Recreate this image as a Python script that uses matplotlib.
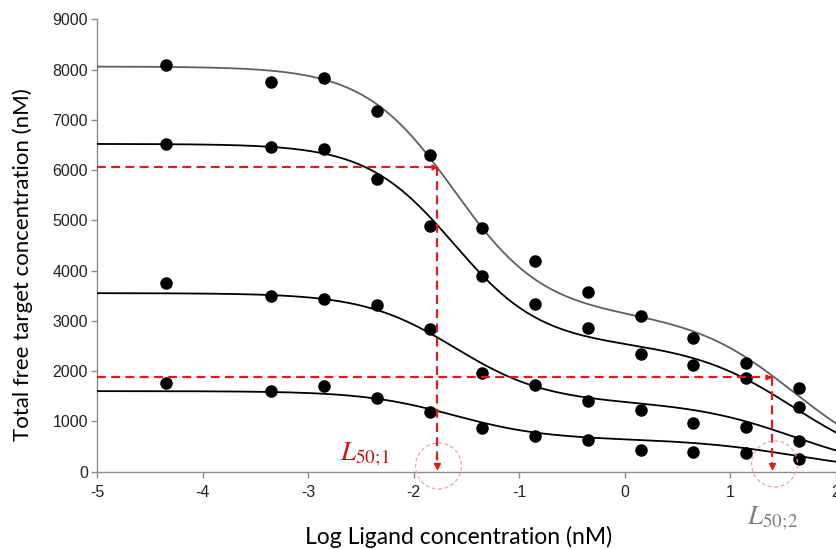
import numpy as np
import matplotlib
matplotlib.use("Agg")
import matplotlib.pyplot as plt
from matplotlib.patches import Ellipse

# ---- data ----
log_ligand = [-4.35, -3.35, -2.85, -2.35, -1.85, -1.35, -0.85, -0.35, 0.15, 0.65, 1.15, 1.65]
series_1 = [8090, 7750, 7840, 7175, 6300, 4850, 4190, 3565, 3100, 2650, 2150, 1655]
series_2 = [6515, 6455, 6425, 5820, 4890, 3900, 3340, 2860, 2340, 2120, 1855, 1290]
series_3 = [3760, 3495, 3425, 3315, 2835, 1955, 1715, 1395, 1220, 960, 880, 605]
series_4 = [1765, 1595, 1700, 1455, 1185, 860, 700, 625, 430, 390, 370, 250]
all_series = [series_1, series_2, series_3, series_4]

# fitted double-sigmoid curve parameters
fit_first_step = [4910, 3970, 2170, 960]     # height of first drop
fit_second_step = [3150, 2550, 1380, 640]    # height of second drop
fit_center_1 = [-1.62, -1.62, -1.61, -1.62]
fit_hill_1 = [1.02, 1.05, 1.0, 1.0]
fit_center_2 = [1.6, 1.6, 1.6, 1.6]
fit_hill_2 = [0.9, 0.9, 0.9, 0.9]
curve_colors = ["#5f5f5f", "#000000", "#000000", "#000000"]

L50_1_x, L50_1_y = -1.78, 6060
L50_2_x, L50_2_y = 1.39, 1880

x_ticks = [-5, -4, -3, -2, -1, 0, 1, 2]
y_ticks = [0, 1000, 2000, 3000, 4000, 5000, 6000, 7000, 8000, 9000]

# ---- figure ----
plt.rcParams['mathtext.fontset'] = 'stix'
fig = plt.figure(figsize=(8.37, 5.49), dpi=100)
ax = fig.add_axes([97 / 837, (549 - 471.5) / 549, (836 - 97) / 837, (471.5 - 19.3) / 549])

xc = np.linspace(-5, 2.2, 600)
for a1, a2, c1, h1, c2, h2, col in zip(fit_first_step, fit_second_step, fit_center_1,
                                        fit_hill_1, fit_center_2, fit_hill_2, curve_colors):
    yc = a1 / (1 + 10 ** (h1 * (xc - c1))) + a2 / (1 + 10 ** (h2 * (xc - c2)))
    ax.plot(xc, yc, color=col, lw=1.3, zorder=3)

for s in all_series:
    ax.plot(log_ligand, s, 'o', color='black', ms=8, zorder=4, clip_on=False)

red = "#dc1e1e"
dash_kw = dict(color=red, lw=1.6, dashes=(4, 2.4), zorder=5)
ax.plot([-5, L50_1_x], [L50_1_y, L50_1_y], **dash_kw)
ax.plot([L50_1_x, L50_1_x], [L50_1_y, 150], **dash_kw)
ax.plot([-5, L50_2_x], [L50_2_y, L50_2_y], **dash_kw)
ax.plot([L50_2_x, L50_2_x], [L50_2_y, 150], **dash_kw)
for xx in (L50_1_x, L50_2_x):
    ax.plot([xx], [110], marker='v', color=red, ms=4.5, zorder=6)
ax.plot([L50_1_x - 0.03], [L50_1_y], marker='>', color=red, ms=3.5, zorder=6)
ax.plot([L50_2_x - 0.03], [L50_2_y], marker='>', color=red, ms=3.5, zorder=6)

for cx, cy in ((-1.765, 110), (1.418, 150)):
    ax.add_patch(Ellipse((cx, cy), 0.435, 916, fill=False, ec="#f4a0a0", lw=0.9,
                         ls=(0, (3, 2)), clip_on=False, zorder=6))

ax.text(-2.70, 209, r'$L_{50;\!1}$', color="#c81818", fontsize=19.5, va='baseline', ha='left')
ax.text(1.153, -1065, r'$L_{50;\!2}$', color="#808080", fontsize=19.5, va='baseline', ha='left',
        clip_on=False)

ax.set_xlim(-5, 2)
ax.set_ylim(0, 9000)
ax.set_xticks(x_ticks)
ax.set_xticklabels([str(t) for t in x_ticks])
ax.set_yticks(y_ticks)
ax.set_yticklabels([str(t) for t in y_ticks])
for sp in ('top', 'right'):
    ax.spines[sp].set_visible(False)
for sp in ('left', 'bottom'):
    ax.spines[sp].set_color('#8c8c8c')
    ax.spines[sp].set_linewidth(1.0)
ax.tick_params(direction='out', length=4, color='#8c8c8c', width=1.0,
               labelsize=11.5, labelcolor='#222222')
ax.tick_params(axis='x', pad=6)
ax.tick_params(axis='y', pad=2.5)
for lab in ax.get_xticklabels() + ax.get_yticklabels():
    lab.set_fontfamily('Liberation Sans')

ax.set_xlabel('Log Ligand concentration (nM)', fontsize=16.5, family='Lato')
ax.set_ylabel('Total free target concentration (nM)', fontsize=16, family='Lato')
ax.xaxis.set_label_coords(0.489, -0.1205)
ax.yaxis.set_label_coords(-0.0866, 0.457)

fig.savefig('out.png', dpi=100)
